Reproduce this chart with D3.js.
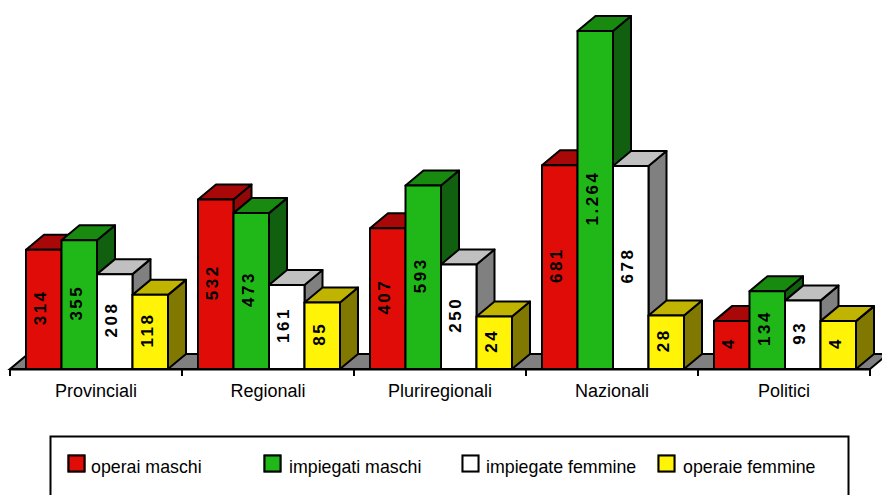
<!DOCTYPE html>
<html><head><meta charset="utf-8">
<script src="https://cdn.jsdelivr.net/npm/d3@7"></script>
<style>html,body{margin:0;padding:0;background:#fff}svg{display:block}text{font-family:"Liberation Sans",Arial,sans-serif}</style>
</head><body><svg id="c" width="882" height="495"></svg>
<script>
const categories=["Provinciali","Regionali","Pluriregionali","Nazionali","Politici"];
const seriesNames=["operai maschi","impiegati maschi","impiegate femmine","operaie femmine"];
const operaiMaschi=[314,532,407,681,4];
const impiegatiMaschi=[355,473,593,1264,134];
const impiegateFemmine=[208,161,250,678,93];
const operaieFemmine=[118,85,24,28,4];
const valueLabels=[["314","532","407","681","4"],["355","473","593","1.264","134"],["208","161","250","678","93"],["118","85","24","28","4"]];
const seriesValues=[operaiMaschi,impiegatiMaschi,impiegateFemmine,operaieFemmine];
const front=["#e00c08","#20b818","#ffffff","#fff408"];
const topC=["#a80808","#188a10","#c0c0c0","#c0b400"];
const side=["#900808","#106010","#808080","#807800"];
const swatchEdge=["#800000","#006000","#c0c0c0","#a09800"];

const svg=d3.select("#c");
const baseY=369,dx=18,dy=15;
const x=d3.scaleBand().domain(categories).range([10,870]);
const inner=d3.scaleBand().domain(d3.range(4)).range([16,158]);
const y=d3.scaleLinear().domain([-204,1264]).range([baseY,31]);
const poly=p=>p.map(q=>q.join(",")).join(" ");

svg.append("polygon").attr("points",poly([[10,baseY],[10+dx,baseY-dy],[870+dx,baseY-dy],[870,baseY]]))
  .attr("fill","#808080").attr("stroke","#000").attr("stroke-width",2);

categories.forEach((c,i)=>{
  const g=svg.append("g");
  seriesValues.forEach((vals,s)=>{
    const x0=x(c)+inner(s),w=inner.bandwidth(),v=vals[i],t=y(v);
    const st=(sel)=>sel.attr("stroke","#000").attr("stroke-width",2).attr("stroke-linejoin","round");
    g.append("polygon").attr("points",poly([[x0+w,baseY],[x0+w+dx,baseY-dy],[x0+w+dx,t-dy],[x0+w,t]])).attr("fill",side[s]).call(st);
    g.append("polygon").attr("points",poly([[x0,t],[x0+dx,t-dy],[x0+w+dx,t-dy],[x0+w,t]])).attr("fill",topC[s]).call(st);
    g.append("rect").attr("x",x0).attr("y",t).attr("width",w).attr("height",baseY-t).attr("fill",front[s]).call(st);
    const cy=(t+baseY)/2-2;
    g.append("text").attr("transform",`translate(${x0+w/2+2.5},${cy}) rotate(-90)`)
      .attr("text-anchor","middle").attr("font-size",17).attr("font-weight","bold")
      .attr("letter-spacing",2.5).attr("fill","#000").text(valueLabels[s][i]);
  });
});

const axis=d3.axisBottom(x).tickSize(0).tickPadding(15.5);
const ag=svg.append("g").attr("transform",`translate(0,${baseY})`).call(axis);
ag.select(".domain").attr("stroke","#000").attr("stroke-width",2);
ag.selectAll("text").attr("font-size",18).attr("font-family",'"Liberation Sans",Arial,sans-serif').attr("fill","#000");
const edges=categories.map(c=>x(c)).concat([x.range()[1]]);
svg.selectAll(".tk").data(edges).enter().append("line").attr("x1",d=>d).attr("x2",d=>d)
  .attr("y1",baseY).attr("y2",baseY+7).attr("stroke","#000").attr("stroke-width",2);

svg.append("rect").attr("x",50.5).attr("y",436.5).attr("width",798).attr("height",70).attr("fill","#fff").attr("stroke","#000").attr("stroke-width",2);
const lx=[67,263,461,657];
const tx=[91,289,486,683];
seriesNames.forEach((n,s)=>{
  svg.append("rect").attr("x",lx[s]+.5).attr("y",454.5).attr("width",18).attr("height",18).attr("fill",swatchEdge[s]);
  svg.append("rect").attr("x",lx[s]+1.5).attr("y",455.5).attr("width",16).attr("height",16).attr("fill",front[s]).attr("stroke","#000").attr("stroke-width",2);
  svg.append("text").attr("x",tx[s]).attr("y",472.5).attr("font-size",17.8).attr("fill","#000").text(n);
});
</script></body></html>
